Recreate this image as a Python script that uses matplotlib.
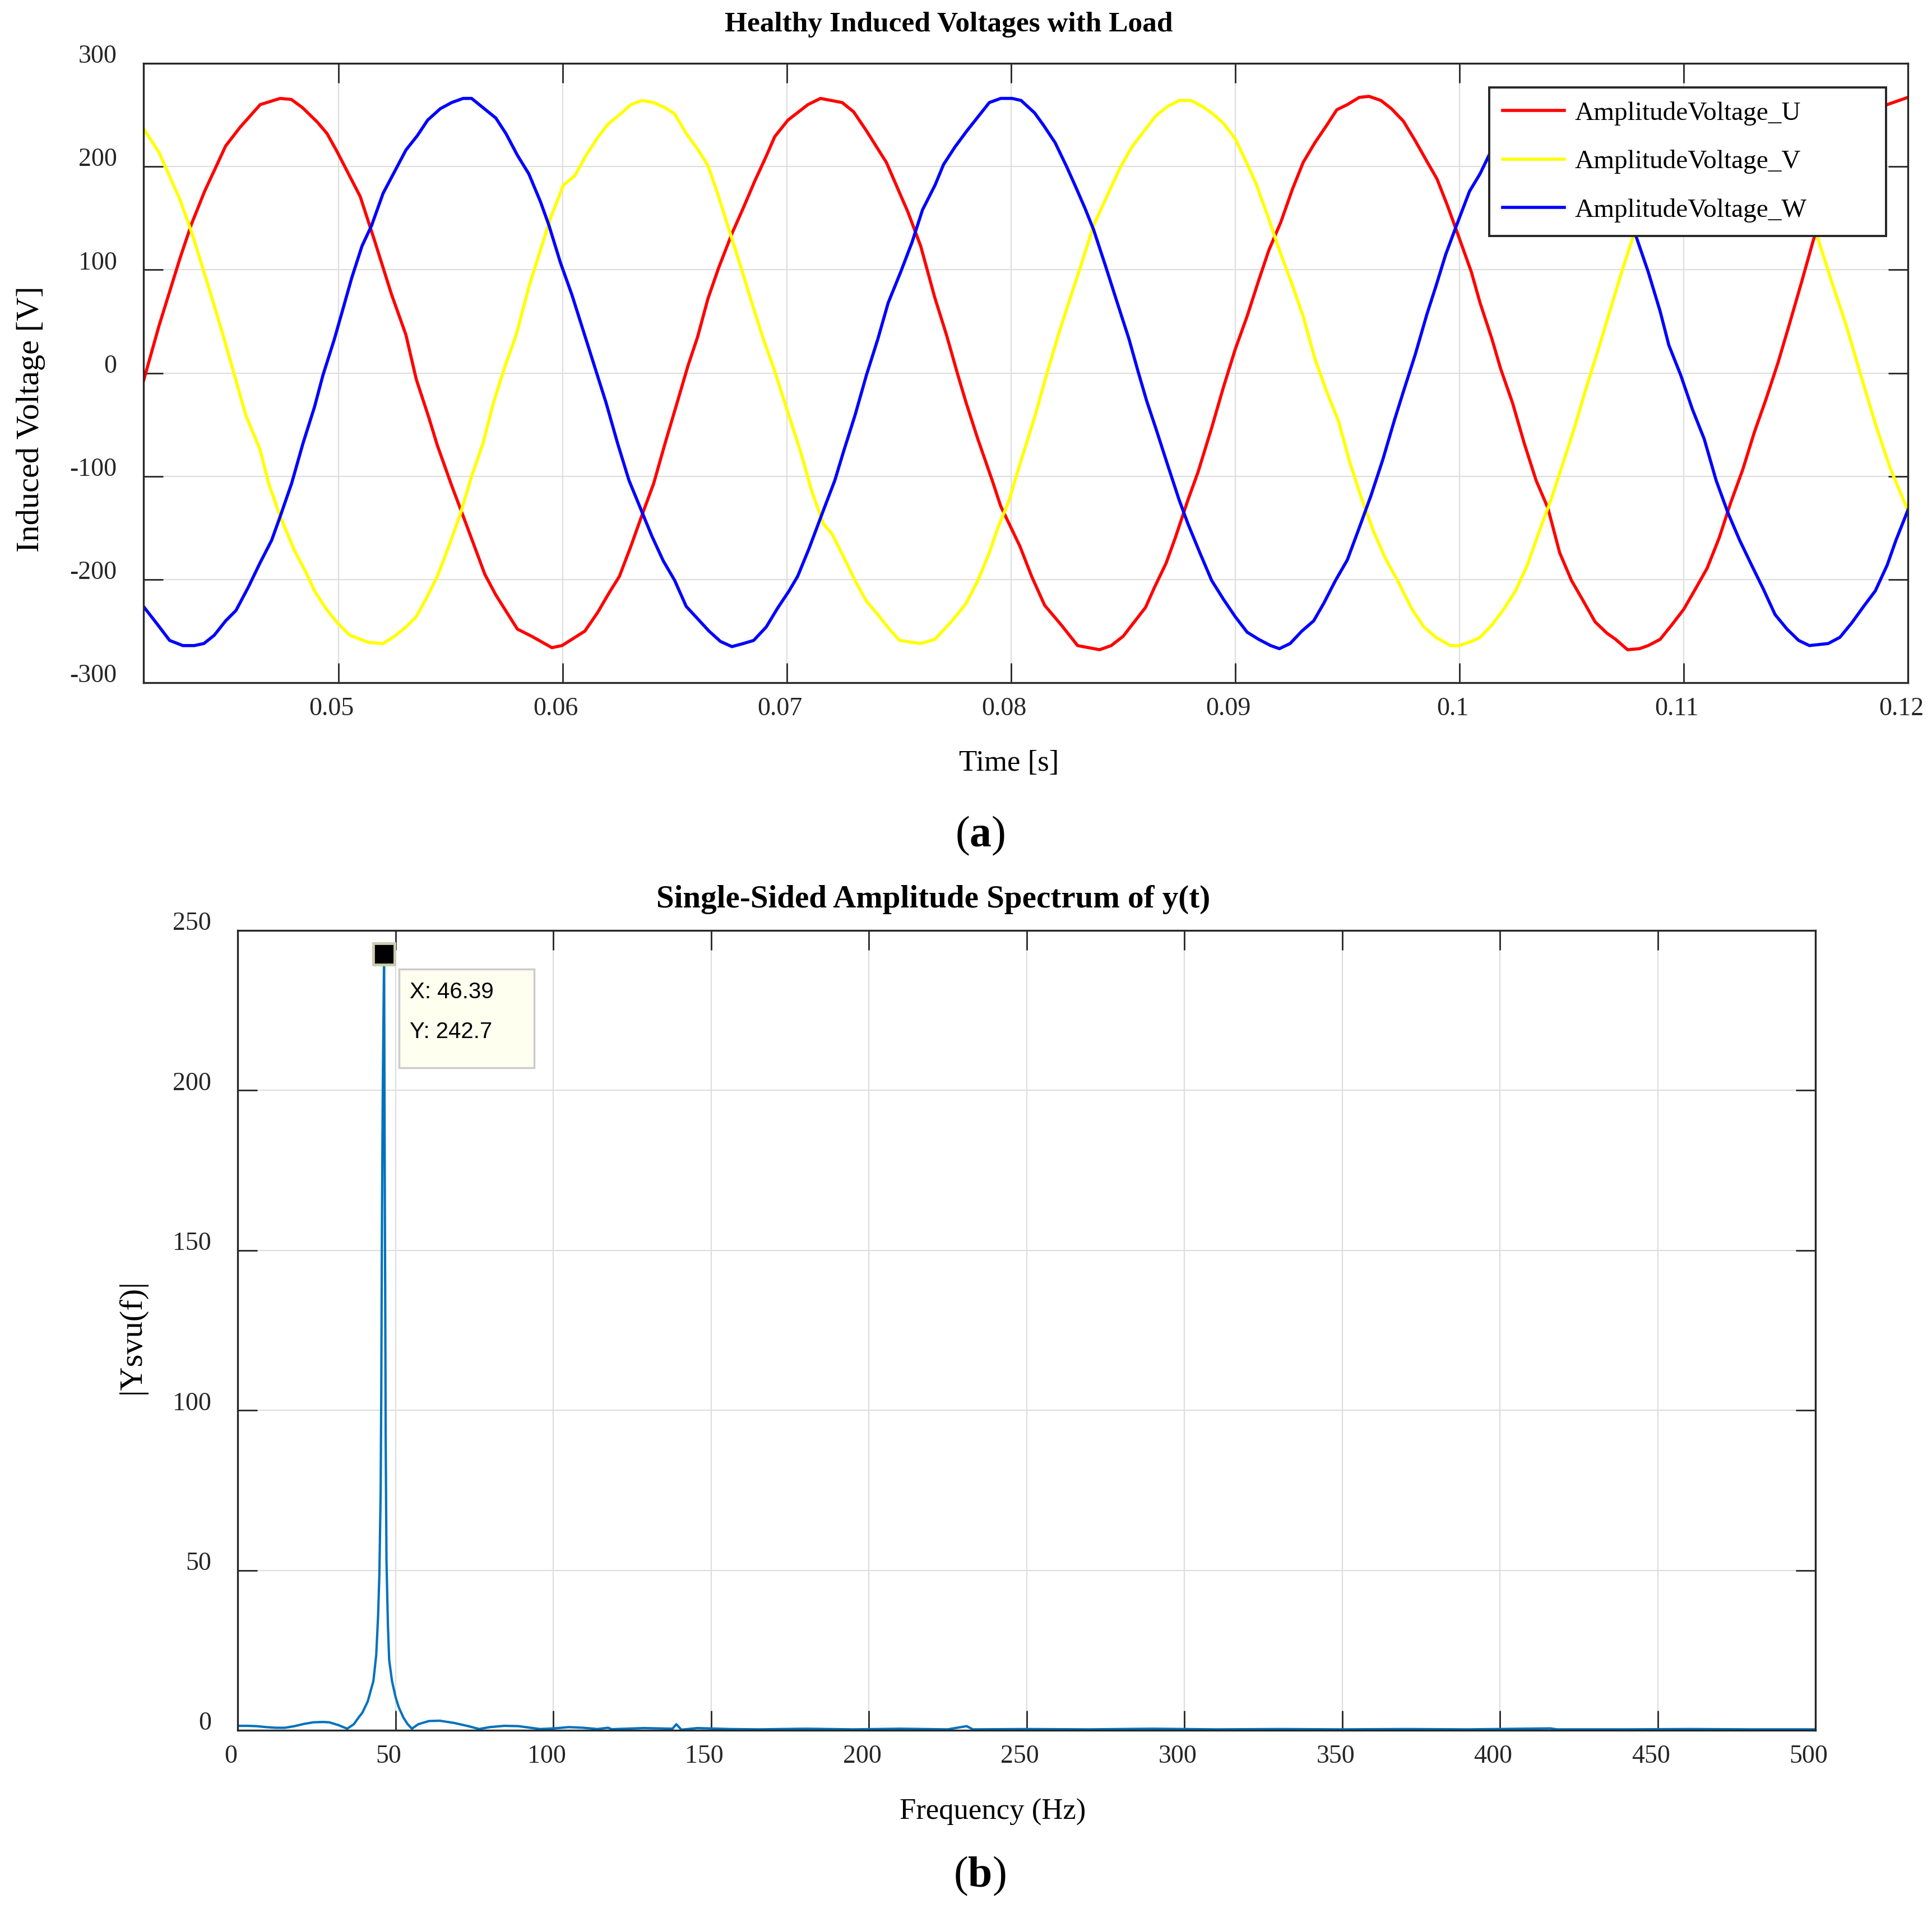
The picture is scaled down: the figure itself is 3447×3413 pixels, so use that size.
# Healthy induced voltages (a) and single-sided amplitude spectrum (b)

import matplotlib
matplotlib.use("Agg")
import matplotlib.pyplot as plt
from matplotlib.transforms import ScaledTranslation
from matplotlib.patches import Rectangle

plt.rcParams['font.family'] = ['Liberation Serif', 'DejaVu Serif']
plt.rcParams['axes.unicode_minus'] = False
plt.rcParams['mathtext.fontset'] = 'custom'
plt.rcParams['mathtext.rm'] = 'Liberation Serif'
plt.rcParams['mathtext.bf'] = 'Liberation Serif:bold'

# ---- phase U ----
t_u = [0.0413, 0.0420, 0.04293, 0.04344, 0.04403, 0.04497, 0.04561, 0.04651, 0.0474, 0.0479,
       0.0484, 0.04906, 0.04949, 0.04995, 0.05097, 0.0516, 0.05237, 0.05301, 0.05347, 0.05403,
       0.05441, 0.05505, 0.05564, 0.05653, 0.05702, 0.05798, 0.05862, 0.05952, 0.05997, 0.06099,
       0.06156, 0.06207, 0.06253, 0.06304, 0.06355, 0.06406, 0.06457, 0.06513, 0.06559, 0.06602,
       0.06648, 0.06696, 0.06755, 0.06806, 0.06857, 0.06908, 0.06946, 0.07005, 0.07094, 0.0715,
       0.07247, 0.07298, 0.07354, 0.07444, 0.0754, 0.07597, 0.0766, 0.07712, 0.07763, 0.078,
       0.07852, 0.07916, 0.07954, 0.0804, 0.08092, 0.0815, 0.08224, 0.08297, 0.08395, 0.08447,
       0.085, 0.086, 0.08639, 0.08692, 0.08732, 0.08789, 0.08834, 0.08895, 0.08947, 0.09,
       0.09053, 0.09105, 0.0915, 0.09203, 0.09255, 0.09303, 0.09355, 0.09408, 0.09453, 0.095,
       0.09553, 0.09597, 0.0965, 0.09697, 0.0975, 0.09803, 0.09855, 0.099, 0.09947, 0.09992,
       0.10053, 0.10092, 0.10145, 0.10184, 0.10237, 0.10289, 0.10342, 0.10395, 0.10447, 0.105,
       0.10553, 0.10605, 0.10658, 0.10697, 0.1075, 0.10803, 0.10842, 0.10895, 0.10947, 0.11,
       0.11053, 0.11105, 0.11158, 0.11211, 0.11263, 0.11316, 0.11368, 0.11421, 0.11474, 0.11526,
       0.11579, 0.11632, 0.11684, 0.11737, 0.1179, 0.1184, 0.11908, 0.11961, 0.12]
volt_u = [-8, 46, 111, 144, 176, 220, 238, 260, 266, 265,
          257, 243, 232, 214, 171, 129, 76, 37, -6, -43,
          -70, -109, -143, -195, -215, -248, -255, -266, -264, -250,
          -232, -213, -197, -168, -137, -107, -68, -27, 7, 35,
          72, 102, 135, 160, 186, 210, 229, 245, 260, 266,
          262, 253, 235, 204, 156, 123, 73, 37, -2, -29,
          -64, -104, -129, -168, -197, -225, -244, -264, -268, -264,
          -255, -227, -208, -184, -160, -123, -96, -53, -14, 23,
          55, 90, 119, 146, 178, 204, 223, 240, 255, 260,
          267, 268, 264, 256, 244, 225, 205, 188, 162, 135,
          98, 68, 33, 4, -29, -68, -104, -131, -174, -201,
          -221, -241, -252, -258, -268, -267, -264, -258, -244, -229,
          -209, -189, -160, -125, -94, -57, -25, 10, 49, 88,
          129, 166, 193, 219, 238, 252, 260, 264, 267]

# ---- phase V ----
t_v = [0.0413, 0.04199, 0.04242, 0.04293, 0.04344, 0.0439, 0.04434, 0.04485, 0.04536, 0.04587,
       0.0465, 0.04689, 0.0474, 0.04804, 0.04855, 0.04893, 0.04944, 0.04995, 0.05051, 0.05135,
       0.05199, 0.0525, 0.05301, 0.05347, 0.0539, 0.05441, 0.05492, 0.05543, 0.05594, 0.05645,
       0.05691, 0.05742, 0.05793, 0.0585, 0.05901, 0.05946, 0.06003, 0.06054, 0.06105, 0.06156,
       0.06202, 0.06253, 0.06304, 0.06355, 0.06406, 0.06457, 0.065, 0.06551, 0.06602, 0.06648,
       0.06691, 0.06742, 0.06793, 0.06844, 0.06895, 0.06946, 0.06997, 0.07061, 0.07112, 0.07163,
       0.07202, 0.07253, 0.07304, 0.07355, 0.07406, 0.07457, 0.07503, 0.07597, 0.0766, 0.07737,
       0.078, 0.07852, 0.07903, 0.07941, 0.0799, 0.0804, 0.08105, 0.08158, 0.08211, 0.08263,
       0.08316, 0.08368, 0.08434, 0.08487, 0.08539, 0.08592, 0.08645, 0.08697, 0.0875, 0.08803,
       0.08855, 0.08895, 0.08947, 0.09, 0.09039, 0.09092, 0.09145, 0.09197, 0.0925, 0.09303,
       0.09355, 0.09408, 0.09461, 0.09513, 0.09566, 0.09618, 0.09671, 0.09724, 0.09789, 0.09842,
       0.09895, 0.0996, 0.1, 0.10053, 0.10092, 0.10145, 0.10197, 0.1025, 0.10303, 0.10355,
       0.10408, 0.10461, 0.10513, 0.10566, 0.10618, 0.10671, 0.10724, 0.10776, 0.1085, 0.1095,
       0.1105, 0.1118, 0.1125, 0.1135, 0.1145, 0.11592, 0.11658, 0.11724, 0.1179, 0.11855,
       0.11921, 0.12]
volt_v = [237, 214, 193, 168, 137, 105, 74, 37, -2, -41,
          -74, -107, -139, -172, -193, -211, -228, -242, -254, -261,
          -262, -255, -246, -236, -219, -197, -168, -137, -100, -68,
          -29, 6, 37, 84, 119, 150, 182, 191, 211, 228,
          241, 250, 260, 264, 262, 257, 251, 232, 217, 201,
          174, 139, 104, 68, 33, 2, -33, -76, -115, -146,
          -156, -178, -201, -221, -234, -248, -259, -262, -258, -240,
          -223, -201, -174, -150, -124, -88, -43, -2, 37, 72,
          107, 143, 174, 199, 219, 234, 249, 258, 264, 264,
          258, 252, 242, 227, 209, 184, 152, 119, 88, 55,
          14, -18, -47, -88, -123, -154, -180, -201, -229, -246,
          -256, -264, -264, -260, -256, -244, -229, -211, -186, -154,
          -123, -88, -53, -14, 22, 60, 98, 133, 172, 218,
          249, 264, 259, 236, 201, 135, 90, 47, -2, -49,
          -92, -133]

# ---- phase W ----
t_w = [0.0413, 0.04191, 0.04247, 0.04306, 0.04357, 0.044, 0.04446, 0.04497, 0.04543, 0.04599,
       0.0465, 0.04702, 0.0474, 0.04791, 0.04842, 0.04893, 0.04931, 0.04982, 0.0502, 0.05059,
       0.05105, 0.05148, 0.05199, 0.0525, 0.05301, 0.05352, 0.05398, 0.05454, 0.05505, 0.05556,
       0.05594, 0.05645, 0.05702, 0.05747, 0.05798, 0.05849, 0.05901, 0.05939, 0.0599, 0.06041,
       0.06092, 0.06143, 0.06194, 0.06245, 0.06296, 0.06347, 0.06398, 0.06449, 0.065, 0.06551,
       0.06602, 0.06653, 0.06704, 0.06755, 0.06806, 0.06852, 0.06908, 0.06958, 0.0701, 0.07048,
       0.07099, 0.07163, 0.07214, 0.07253, 0.07304, 0.07355, 0.07406, 0.07452, 0.07508, 0.07559,
       0.07605, 0.07661, 0.07699, 0.0775, 0.07801, 0.07852, 0.07903, 0.07954, 0.08005, 0.08045,
       0.08105, 0.08145, 0.08197, 0.0825, 0.08289, 0.08329, 0.08368, 0.08421, 0.08474, 0.08526,
       0.08566, 0.08605, 0.08645, 0.08697, 0.0875, 0.08789, 0.08842, 0.08895, 0.08947, 0.09,
       0.09053, 0.09105, 0.09158, 0.09197, 0.09245, 0.09297, 0.0935, 0.09395, 0.09447, 0.095,
       0.09553, 0.09605, 0.09658, 0.09711, 0.0975, 0.09803, 0.09855, 0.09895, 0.09939, 0.09987,
       0.10045, 0.10092, 0.10132, 0.1020, 0.1028, 0.1038, 0.1046, 0.1054, 0.1062, 0.1070,
       0.1075, 0.1079, 0.10842, 0.10895, 0.10934, 0.10987, 0.11039, 0.11092, 0.11145, 0.11197,
       0.1125, 0.11303, 0.11355, 0.11408, 0.11461, 0.11513, 0.11561, 0.11645, 0.11697, 0.1175,
       0.11803, 0.11855, 0.11908, 0.11947, 0.12]
volt_w = [-226, -243, -259, -264, -264, -262, -254, -240, -230, -207,
          -184, -162, -139, -107, -68, -33, -2, 33, 62, 92,
          123, 143, 174, 195, 216, 230, 245, 256, 262, 266,
          266, 257, 247, 232, 211, 193, 166, 143, 107, 76,
          41, 6, -29, -68, -104, -131, -158, -182, -201, -226,
          -238, -250, -260, -265, -262, -259, -246, -228, -211, -197,
          -170, -133, -104, -76, -41, -2, 33, 68, 98, 127,
          158, 182, 202, 219, 234, 248, 262, 266, 266, 264,
          252, 240, 223, 199, 180, 160, 139, 104, 68, 33,
          2, -27, -53, -88, -123, -146, -174, -201, -219, -236,
          -251, -258, -264, -267, -262, -250, -240, -223, -201, -181,
          -150, -119, -84, -45, -18, 18, 57, 84, 115, 143,
          176, 193, 211, 237, 256, 266, 262, 247, 222, 186,
          160, 131, 98, 60, 27, -2, -35, -64, -104, -135,
          -162, -186, -209, -234, -248, -259, -264, -262, -256, -242,
          -226, -211, -186, -162, -133]

# ---- spectrum |Ysvu(f)| ----
freq = [0, 3, 6, 9, 12, 15, 18, 21, 24, 27,
        29, 32, 34.7, 36.8, 38.3, 39.5, 41.2, 43, 43.9, 44.5,
        44.9, 45.3, 45.5, 45.7, 45.85, 46.0, 46.39, 46.56, 46.74, 46.9,
        47.15, 47.6, 48.0, 48.9, 50, 51, 52.5, 53.8, 55.2, 57.2,
        60.6, 64, 68.6, 73.1, 76.5, 79.9, 84.5, 89, 93.5, 95.8,
        100.3, 104.9, 109.4, 114, 117.4, 118.5, 128.7, 137.8, 139, 140.6,
        145.7, 155.9, 165, 180, 195, 210, 225, 231, 233, 250,
        270, 290, 310, 330, 350, 370, 390, 416, 418, 440,
        460, 480, 500]
amp = [1.4, 1.4, 1.3, 1.0, 0.8, 0.8, 1.3, 2.0, 2.5, 2.6,
       2.5, 1.6, 0.5, 1.9, 4, 5.5, 9, 15.4, 23.5, 36,
       49, 74, 106, 155, 182, 203, 242.7, 184, 138, 90,
       53, 33, 22, 15.4, 10.5, 7.3, 4, 2.0, 0.5, 1.9,
       2.9, 3.0, 2.3, 1.3, 0.4, 1.0, 1.4, 1.3, 0.7, 0.4,
       0.6, 1.0, 0.8, 0.4, 0.8, 0.35, 0.7, 0.5, 1.9, 0.2,
       0.7, 0.4, 0.3, 0.5, 0.3, 0.5, 0.3, 1.3, 0.3, 0.4,
       0.3, 0.5, 0.3, 0.4, 0.3, 0.4, 0.3, 0.6, 0.3, 0.3,
       0.4, 0.3, 0.3]

peak_f, peak_a = 46.39, 242.7

tick_color = '#262626'
grid_color = '#DEDEDE'


def style_axes(ax):
    ax.grid(True, color=grid_color, lw=1.6)
    ax.set_axisbelow(True)
    ax.tick_params(direction='in', length=25, width=2, top=True, right=True,
                   colors=tick_color, labelsize=33)
    ax.tick_params(axis='x', pad=18)
    ax.tick_params(axis='y', pad=34)
    for sp in ax.spines.values():
        sp.set_linewidth(2.4)
        sp.set_color(tick_color)


def shift_labels(ax, fig):
    # MATLAB export puts tick labels slightly off their ticks
    up = ScaledTranslation(0, 17 / 100, fig.dpi_scale_trans)
    left = ScaledTranslation(-12 / 100, 0, fig.dpi_scale_trans)
    for lab in ax.get_yticklabels():
        lab.set_transform(lab.get_transform() + up)
    for lab in ax.get_xticklabels():
        lab.set_transform(lab.get_transform() + left)


fig = plt.figure(figsize=(34.48, 34.13), dpi=100)

# ---------------- (a) ----------------
ax1 = fig.add_axes([0.0742, 0.6431, 0.9130, 0.3238])
ax1.plot(t_u, volt_u, color='#FF0000', lw=4, label='AmplitudeVoltage_U')
ax1.plot(t_v, volt_v, color='#FFFF00', lw=4, label='AmplitudeVoltage_V')
ax1.plot(t_w, volt_w, color='#0000FF', lw=4, label='AmplitudeVoltage_W')
ax1.set_xlim(0.0413, 0.12)
ax1.set_ylim(-300, 300)
ax1.set_xticks([0.05, 0.06, 0.07, 0.08, 0.09, 0.1, 0.11, 0.12])
ax1.set_xticklabels(['0.05', '0.06', '0.07', '0.08', '0.09', '0.1', '0.11', '0.12'])
ax1.set_yticks([-300, -200, -100, 0, 100, 200, 300])
style_axes(ax1)
shift_labels(ax1, fig)
ax1.set_xlabel('Time [s]', fontsize=38, va='center')
ax1.xaxis.set_label_coords(0.4905, -0.1303)
ax1.set_ylabel('Induced Voltage [V]', fontsize=42, va='center')
ax1.yaxis.set_label_coords(-0.0639, 0.4253)

leg = ax1.legend(loc='upper left', bbox_to_anchor=(0.7627, 0.951, 0.2249, 0.01),
                 mode='expand', borderaxespad=0, fontsize=34, handlelength=2.33,
                 handletextpad=0.38, labelspacing=0.92, borderpad=0.52,
                 fancybox=False, framealpha=1)
leg.get_frame().set_edgecolor('#262626')
leg.get_frame().set_linewidth(2.8)
for line in leg.get_lines():
    line.set_linewidth(4)

fig.text(0.491, 0.987, 'Healthy Induced Voltages with Load', fontsize=37,
         fontweight='bold', ha='center', va='center')
fig.text(0.507, 0.563, r'($\mathbf{a}$)', fontsize=56, ha='center', va='center')

# ---------------- (b) ----------------
ax2 = fig.add_axes([0.1230, 0.0955, 0.8164, 0.4181])
ax2.plot(freq, amp, color='#0072BD', lw=3)
ax2.plot([peak_f], [peak_a], marker='s', ms=27, mfc='black', mec='#CBCBAE', mew=3.5,
         ls='none', zorder=5)
ax2.set_xlim(0, 500)
ax2.set_ylim(0, 250)
ax2.set_xticks(range(0, 501, 50))
ax2.set_yticks(range(0, 251, 50))
style_axes(ax2)
shift_labels(ax2, fig)
ax2.set_xlabel('Frequency (Hz)', fontsize=38, va='center')
ax2.xaxis.set_label_coords(0.4785, -0.1023)
ax2.set_ylabel('|Ysvu(f)|', fontsize=42, va='center')
ax2.yaxis.set_label_coords(-0.0671, 0.492)

# data tip box
ax2.add_patch(Rectangle((0.1023, 0.8283), 0.0856, 0.1233, transform=ax2.transAxes,
                        facecolor='#FFFFF0', edgecolor='#CCCCCC', lw=2.5, zorder=6))
ax2.text(0.109, 0.9229, 'X: 46.39', transform=ax2.transAxes, fontsize=29,
         family='Liberation Sans', va='center', ha='left', zorder=7)
ax2.text(0.109, 0.8732, 'Y: 242.7', transform=ax2.transAxes, fontsize=29,
         family='Liberation Sans', va='center', ha='left', zorder=7)

fig.text(0.483, 0.5297, 'Single-Sided Amplitude Spectrum of y(t)', fontsize=41,
         fontweight='bold', ha='center', va='center')
fig.text(0.507, 0.0193, r'($\mathbf{b}$)', fontsize=56, ha='center', va='center')

fig.savefig('out.png', dpi=100)
